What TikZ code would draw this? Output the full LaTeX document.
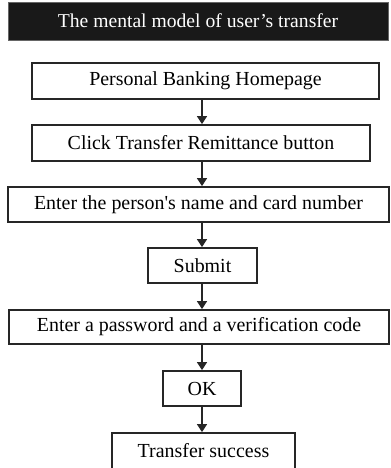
\documentclass[tikz,border=0pt]{standalone}
\usepackage{fontspec}
\setmainfont{Liberation Serif}
\usetikzlibrary{arrows.meta}
\begin{document}
\begin{tikzpicture}[x=1bp,y=-1bp,
  stepbox/.style={draw=black!85,line width=1.8bp,fill=white,inner sep=0pt,font=\fontsize{20}{24}\selectfont},
  arr/.style={draw=black!85,line width=1.6bp,-{Triangle[width=10bp,length=8bp]}}]
\useasboundingbox (0,0) rectangle (390,468);
\node[fill=black!90,draw=black!60,line width=0.6bp,minimum width=380bp,minimum height=38bp,inner sep=0pt,
      text=white,font=\fontsize{19.7}{24}\selectfont] (title) at (198,21) {The mental model of user’s transfer};
\node[stepbox,minimum width=347bp,minimum height=36bp] (b1) at (205.5,81) {Personal Banking Homepage};
\node[stepbox,minimum width=338bp,minimum height=36bp] (b2) at (201,143) {Click Transfer Remittance button};
\node[stepbox,minimum width=381bp,minimum height=35bp] (b3) at (198.5,204.5) {Enter the person\textquotesingle s name and card number};
\node[stepbox,minimum width=109bp,minimum height=35bp] (b4) at (202.5,265.5) {Submit};
\node[stepbox,minimum width=380bp,minimum height=34bp] (b5) at (199,327) {Enter a password and a verification code};
\node[stepbox,minimum width=78bp,minimum height=35bp] (b6) at (202,388.5) {OK};
\node[stepbox,minimum width=183bp,minimum height=36bp] (b7) at (203.5,451) {Transfer success};
\coordinate (ax) at (202,0);
\draw[arr] (b1.south -| ax) -- (b2.north -| ax);
\draw[arr] (b2.south -| ax) -- (b3.north -| ax);
\draw[arr] (b3.south -| ax) -- (b4.north -| ax);
\draw[arr] (b4.south -| ax) -- (b5.north -| ax);
\draw[arr] (b5.south -| ax) -- (b6.north -| ax);
\draw[arr] (b6.south -| ax) -- (b7.north -| ax);
\end{tikzpicture}
\end{document}
